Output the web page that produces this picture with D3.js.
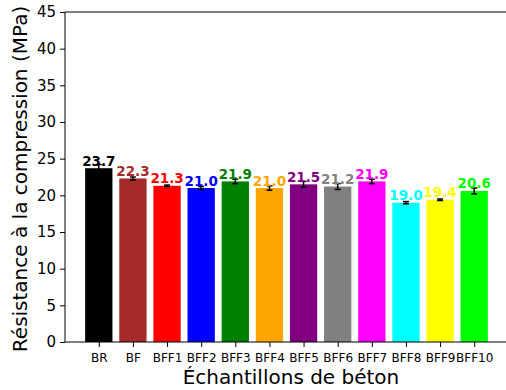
<!DOCTYPE html>
<html><head><meta charset="utf-8">
<script src="https://cdn.jsdelivr.net/npm/d3@7"></script>
<style>body{margin:0;background:#fff;overflow:hidden}svg{display:block;font-family:"DejaVu Sans",sans-serif}</style>
</head><body><svg id="c" width="506" height="390"></svg>
<script>
const categories = ["BR","BF","BFF1","BFF2","BFF3","BFF4","BFF5","BFF6","BFF7","BFF8","BFF9","BFF10"];
const values = [23.7,22.3,21.3,21.0,21.9,21.0,21.5,21.2,21.9,19.0,19.4,20.6];
const errors = [0.5,0.2,0.1,0.2,0.3,0.3,0.4,0.4,0.3,0.15,0.1,0.4];
const colors = ["black","brown","red","blue","green","orange","purple","gray","magenta","cyan","yellow","lime"];
const yTicks = [0,5,10,15,20,25,30,35,40,45];

const svg = d3.select("#c");
const L=65, R=508, T=12, B=342;
const n = categories.length;
const x = d3.scaleLinear().domain([-0.99, n-1+0.99]).range([L,R]);
const y = d3.scaleLinear().domain([0,45]).range([B,T]);
const bw = x(0.4)-x(-0.4);

const g = svg.append("g");
g.selectAll("rect.bar").data(values).enter().append("rect")
  .attr("x",(d,i)=>x(i)-bw/2).attr("width",bw)
  .attr("y",d=>y(d)).attr("height",d=>y(0)-y(d))
  .attr("fill",(d,i)=>colors[i]);

// error bars
values.forEach((v,i)=>{
  const cx=x(i), e=errors[i];
  g.append("line").attr("x1",cx).attr("x2",cx).attr("y1",y(v-e)).attr("y2",y(v+e)).attr("stroke","black").attr("stroke-width",1.5);
  [v-e,v+e].forEach(t=>g.append("line").attr("x1",cx-3).attr("x2",cx+3).attr("y1",y(t)).attr("y2",y(t)).attr("stroke","black").attr("stroke-width",1.5));
});

// value labels
g.selectAll("text.val").data(values).enter().append("text")
  .attr("x",(d,i)=>x(i)).attr("y",d=>y(d)-2.5)
  .attr("text-anchor","middle").attr("font-size","13.5px").attr("font-weight","bold")
  .attr("fill",(d,i)=>colors[i]).text(d=>d.toFixed(1));

// spines
svg.append("line").attr("x1",L).attr("x2",L).attr("y1",T).attr("y2",B).attr("stroke","black").attr("stroke-width",1);
svg.append("line").attr("x1",L).attr("x2",R).attr("y1",B).attr("y2",B).attr("stroke","black").attr("stroke-width",1);
svg.append("line").attr("x1",L).attr("x2",R).attr("y1",T).attr("y2",T).attr("stroke","black").attr("stroke-width",1);

// y axis
const ya = svg.append("g").attr("transform",`translate(${L},0)`)
  .call(d3.axisLeft(y).tickValues(yTicks).tickSize(5).tickPadding(4).tickFormat(d3.format("d")));
ya.select(".domain").remove();
ya.selectAll("text").attr("font-size","15px").attr("font-family","DejaVu Sans").attr("fill","black");
ya.selectAll("line").attr("stroke","black");

// x axis
const xa = svg.append("g").attr("transform",`translate(0,${B})`)
  .call(d3.axisBottom(x).tickValues(d3.range(n)).tickSize(5).tickPadding(6).tickFormat(i=>categories[i]));
xa.select(".domain").remove();
xa.selectAll("text").attr("font-size","12px").attr("font-family","DejaVu Sans").attr("fill","black");
xa.selectAll("line").attr("stroke","black");

svg.append("text").attr("x",291).attr("y",384).attr("text-anchor","middle")
  .attr("font-size","20px").text("Échantillons de béton");
svg.append("text").attr("transform",`translate(27,179) rotate(-90)`).attr("text-anchor","middle")
  .attr("font-size","20px").text("Résistance à la compression (MPa)");
</script></body></html>
